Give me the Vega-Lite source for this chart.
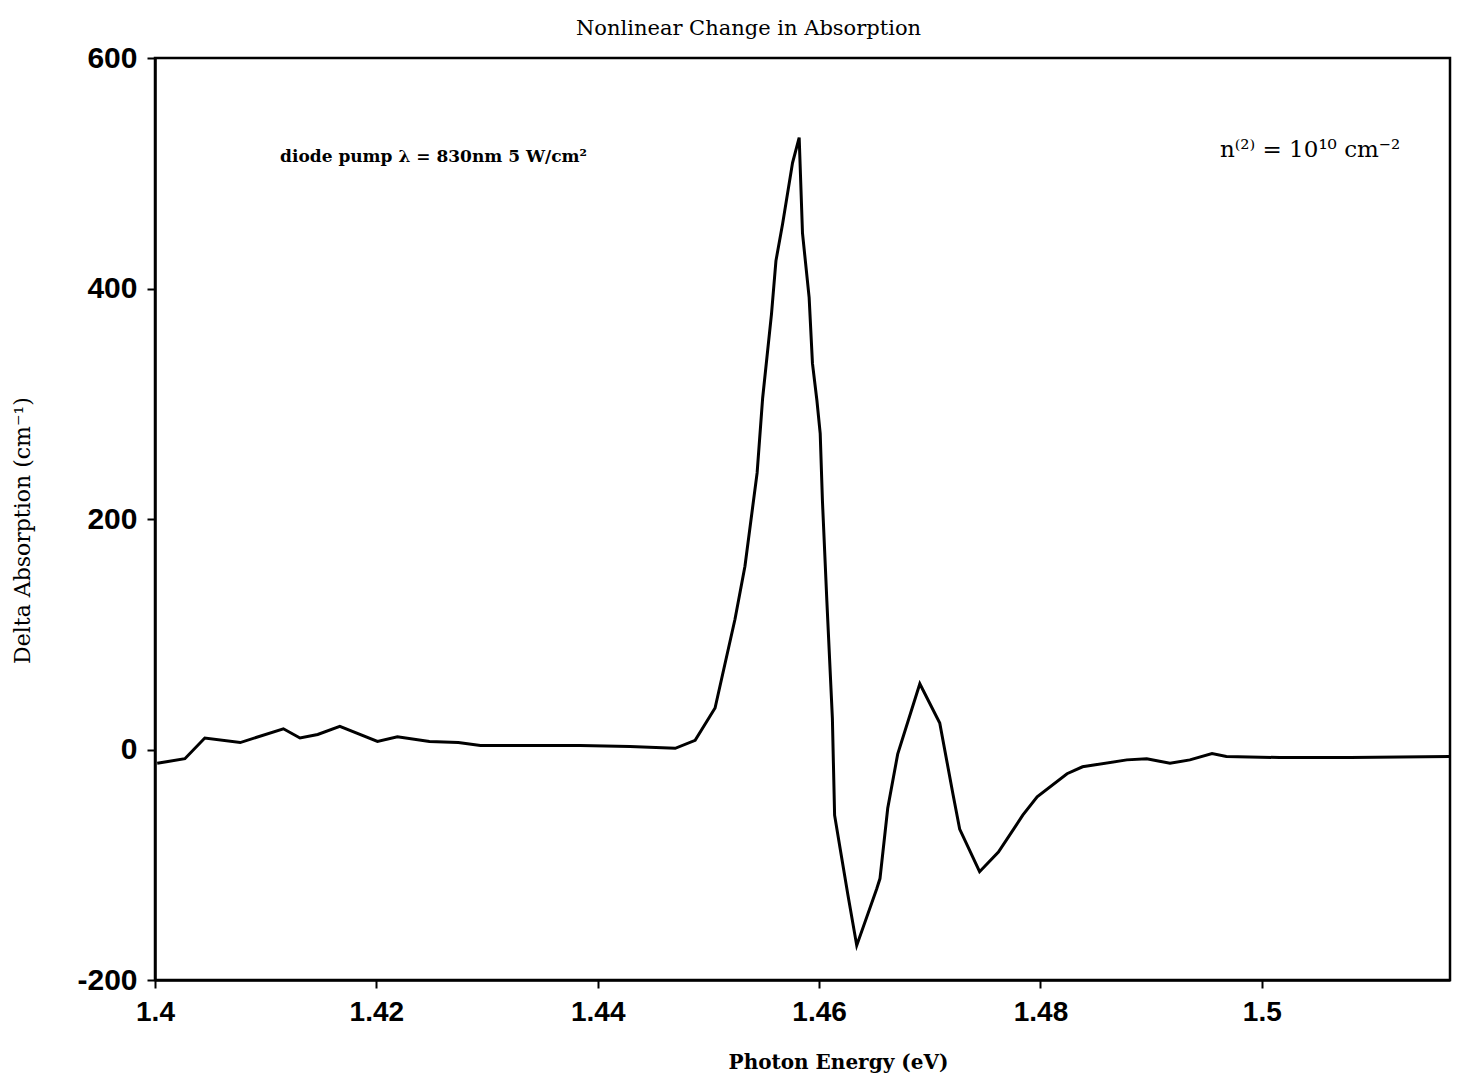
{
  "$schema": "https://vega.github.io/schema/vega-lite/v6.json",
  "autosize": "none",
  "width": 1295,
  "height": 922,
  "padding": {"left": 155, "top": 58, "right": 20, "bottom": 100},
  "background": "white",
  "config": {
    "view": {"stroke": "black", "strokeWidth": 2.5},
    "axis": {"grid": false, "domainColor": "black", "domainWidth": 2.5, "tickColor": "black", "tickWidth": 2, "labelColor": "black", "titleColor": "black"}
  },
  "title": {
    "text": "Nonlinear Change in Absorption",
    "font": "DejaVu Serif",
    "fontSize": 21,
    "fontWeight": "normal",
    "color": "black",
    "anchor": "middle",
    "dx": -54,
    "offset": 4
  },
  "datasets": {
    "curve": [
      {"energy": 1.4002, "delta": -12},
      {"energy": 1.4027, "delta": -8},
      {"energy": 1.4045, "delta": 10},
      {"energy": 1.4077, "delta": 6},
      {"energy": 1.4116, "delta": 18},
      {"energy": 1.4131, "delta": 10},
      {"energy": 1.4147, "delta": 13},
      {"energy": 1.4167, "delta": 20},
      {"energy": 1.4201, "delta": 7},
      {"energy": 1.4219, "delta": 11},
      {"energy": 1.4248, "delta": 7},
      {"energy": 1.4274, "delta": 6},
      {"energy": 1.4294, "delta": 3.5},
      {"energy": 1.4384, "delta": 3.5},
      {"energy": 1.4429, "delta": 2.6},
      {"energy": 1.447, "delta": 1},
      {"energy": 1.4488, "delta": 8},
      {"energy": 1.4506, "delta": 36},
      {"energy": 1.4524, "delta": 113},
      {"energy": 1.4533, "delta": 159},
      {"energy": 1.4544, "delta": 240},
      {"energy": 1.4549, "delta": 305},
      {"energy": 1.4557, "delta": 378},
      {"energy": 1.4561, "delta": 424},
      {"energy": 1.4567, "delta": 456},
      {"energy": 1.4576, "delta": 509},
      {"energy": 1.4582, "delta": 531},
      {"energy": 1.4585, "delta": 448},
      {"energy": 1.4591, "delta": 392},
      {"energy": 1.4594, "delta": 335},
      {"energy": 1.4598, "delta": 303},
      {"energy": 1.4601, "delta": 274},
      {"energy": 1.4603, "delta": 216},
      {"energy": 1.4607, "delta": 129},
      {"energy": 1.4612, "delta": 27},
      {"energy": 1.4614, "delta": -57},
      {"energy": 1.4619, "delta": -86},
      {"energy": 1.4626, "delta": -126},
      {"energy": 1.4634, "delta": -170},
      {"energy": 1.4652, "delta": -121},
      {"energy": 1.4655, "delta": -112},
      {"energy": 1.4662, "delta": -51},
      {"energy": 1.4671, "delta": -4},
      {"energy": 1.4691, "delta": 57},
      {"energy": 1.4709, "delta": 23},
      {"energy": 1.4721, "delta": -39},
      {"energy": 1.4727, "delta": -69},
      {"energy": 1.4745, "delta": -106},
      {"energy": 1.4762, "delta": -89},
      {"energy": 1.4784, "delta": -57},
      {"energy": 1.4797, "delta": -41},
      {"energy": 1.4824, "delta": -21},
      {"energy": 1.4838, "delta": -15},
      {"energy": 1.4878, "delta": -9},
      {"energy": 1.4896, "delta": -8},
      {"energy": 1.4917, "delta": -12},
      {"energy": 1.4935, "delta": -9},
      {"energy": 1.4955, "delta": -3.5},
      {"energy": 1.4968, "delta": -6},
      {"energy": 1.5016, "delta": -7},
      {"energy": 1.508, "delta": -7},
      {"energy": 1.517, "delta": -6}
    ],
    "notes": [
      {"energy": 1.4113, "delta": 514, "label": "diode pump λ = 830nm   5 W/cm²", "side": "left"},
      {"energy": 1.5125, "delta": 520, "label": "n⁽²⁾ = 10¹⁰ cm⁻²", "side": "right"}
    ]
  },
  "layer": [
    {
      "data": {"name": "curve"},
      "mark": {"type": "line", "color": "black", "strokeWidth": 3, "clip": true},
      "encoding": {
        "x": {
          "field": "energy", "type": "quantitative",
          "scale": {"domain": [1.4, 1.517], "nice": false, "zero": false},
          "axis": {
            "values": [1.4, 1.42, 1.44, 1.46, 1.48, 1.5],
            "format": "~r",
            "labelFlush": false,
            "labelFont": "Liberation Sans", "labelFontSize": 28, "labelFontWeight": "bold",
            "labelPadding": 10, "tickSize": 8,
            "title": "Photon Energy (eV)",
            "titleFont": "DejaVu Serif", "titleFontSize": 20, "titleFontWeight": "bold",
            "titleX": 683, "titleY": 82, "titleBaseline": "middle"
          }
        },
        "y": {
          "field": "delta", "type": "quantitative",
          "scale": {"domain": [-200, 600], "nice": false},
          "axis": {
            "values": [-200, 0, 200, 400, 600],
            "labelExpr": "replace(datum.label, '−', '-')",
            "labelFont": "Liberation Sans", "labelFontSize": 30, "labelFontWeight": "bold",
            "labelPadding": 10, "tickSize": 8,
            "title": "Delta Absorption  (cm⁻¹)",
            "titleFont": "DejaVu Serif", "titleFontSize": 22, "titleFontWeight": "normal",
            "titleX": -133, "titleY": 472, "titleBaseline": "middle"
          }
        }
      }
    },
    {
      "data": {"name": "notes"},
      "transform": [{"filter": "datum.side == 'left'"}],
      "mark": {"type": "text", "align": "left", "baseline": "middle", "font": "DejaVu Serif", "fontSize": 17, "fontWeight": "bold", "color": "black"},
      "encoding": {
        "x": {"field": "energy", "type": "quantitative"},
        "y": {"field": "delta", "type": "quantitative"},
        "text": {"field": "label"}
      }
    },
    {
      "data": {"name": "notes"},
      "transform": [{"filter": "datum.side == 'right'"}],
      "mark": {"type": "text", "align": "right", "baseline": "middle", "font": "DejaVu Serif", "fontSize": 23, "fontWeight": "normal", "color": "black"},
      "encoding": {
        "x": {"field": "energy", "type": "quantitative"},
        "y": {"field": "delta", "type": "quantitative"},
        "text": {"field": "label"}
      }
    }
  ]
}
